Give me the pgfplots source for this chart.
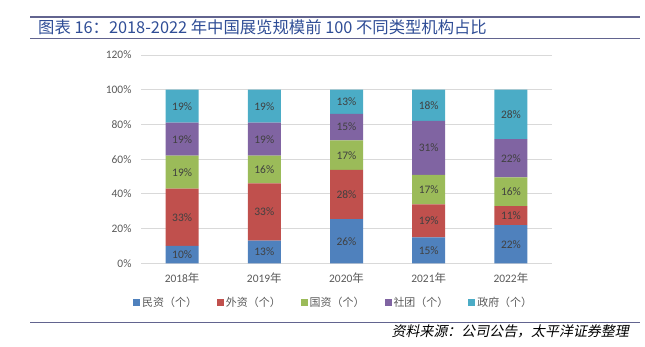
\documentclass[border=0pt]{standalone}
\usepackage{fontspec}
\setmainfont{Carlito}
\newfontfamily\cjk{Noto Sans CJK SC}
\newfontfamily\cjkit{Noto Sans CJK SC}[FakeSlant=0.2]
\usepackage{pgfplots}
\pgfplotsset{compat=1.18}
\usepackage{pgfplotstable}
\definecolor{cMin}{HTML}{4F81BD}
\definecolor{cWai}{HTML}{C0504D}
\definecolor{cGuo}{HTML}{9BBB59}
\definecolor{cShe}{HTML}{8064A2}
\definecolor{cZheng}{HTML}{4BACC6}
\definecolor{txt}{HTML}{595959}
\definecolor{lbl}{HTML}{404040}
\definecolor{gridc}{HTML}{D9D9D9}
\definecolor{ttl}{HTML}{2F4D96}
\definecolor{rulec}{HTML}{62648F}
\pgfplotstableread{
x min wai guo she zheng
0 10 33 19 19 19
1 13 33 16 19 19
2 25.5 28.3 17 15.3 13.9
3 15 19 17 31 18
4 22 11 16.5 22 28.5
}\bars
\begin{document}
\begin{tikzpicture}
\begin{scope}[x=1bp,y=1bp]
\useasboundingbox (0,0) rectangle (645,346);
\draw[rulec, line width=2bp] (30,328.7) -- (640,328.7);
\node[anchor=base west, text=ttl, inner sep=0pt, font=\cjk\fontsize{16.4}{16.4}\selectfont] at (38,313) {图表 16：2018-2022 年中国展览规模前 100 不同类型机构占比};
\draw[rulec, line width=0.8bp] (30,307.7) -- (640,307.7);
\draw[rulec, line width=0.8bp] (30,23.7) -- (640,23.7);
\node[anchor=base east, inner sep=0pt, font=\cjkit\fontsize{14}{14}\selectfont] at (629,10) {资料来源：公司公告，太平洋证券整理};
\end{scope}
\begin{axis}[
  at={(141bp,82.7bp)}, anchor=south west, scale only axis,
  width=411bp, height=208.3bp,
  ybar stacked, bar width=33bp,
  xmin=-0.5, xmax=4.5, ymin=0, ymax=120,
  xtick={0,1,2,3,4},
  xticklabels={2018{\cjk 年},2019{\cjk 年},2020{\cjk 年},2021{\cjk 年},2022{\cjk 年}},
  ytick={0,20,...,120},
  yticklabel={\pgfmathprintnumber{\tick}\%},
  axis line style={draw=none}, major tick length=0pt,
  ymajorgrids, grid style={gridc, line width=0.8bp},
  tick label style={font=\fontsize{11.5}{11.5}\selectfont, text=txt},
  /pgf/number format/assume math mode=true,
  yticklabel style={xshift=-6bp},
  xticklabel style={yshift=-6bp},
  legend columns=5,
  legend style={at={(-0.0195,-0.19)}, anchor=west, draw=none, fill=none,
    inner sep=0pt, font=\cjk\fontsize{11}{11}\selectfont, text=txt,
    /tikz/every even column/.append style={column sep=18bp}},
  legend image code/.code={\fill[#1] (0bp,-3.5bp) rectangle (7bp,3.5bp);},
]
\addplot[fill=cMin, draw=none] table[x=x,y=min]{\bars};
\addplot[fill=cWai, draw=none] table[x=x,y=wai]{\bars};
\addplot[fill=cGuo, draw=none] table[x=x,y=guo]{\bars};
\addplot[fill=cShe, draw=none] table[x=x,y=she]{\bars};
\addplot[fill=cZheng, draw=none] table[x=x,y=zheng]{\bars};
\legend{民资（个）,外资（个）,国资（个）,社团（个）,政府（个）}
\end{axis}
\begin{axis}[
  at={(141bp,82.7bp)}, anchor=south west, scale only axis,
  width=411bp, height=208.3bp,
  xmin=-0.5, xmax=4.5, ymin=0, ymax=120,
  hide axis, nodes near coords, point meta=explicit symbolic,
  every node near coord/.append style={anchor=center, inner sep=0pt,
    font=\fontsize{11.5}{11.5}\selectfont, text=lbl},
]
\addplot[draw=none, mark=none] coordinates {(0,5)[10\%] (1,6.5)[13\%] (2,12.75)[26\%] (3,7.5)[15\%] (4,11)[22\%]};
\addplot[draw=none, mark=none] coordinates {(0,26.5)[33\%] (1,29.5)[33\%] (2,39.65)[28\%] (3,24.5)[19\%] (4,27.5)[11\%]};
\addplot[draw=none, mark=none] coordinates {(0,52.5)[19\%] (1,54)[16\%] (2,62.3)[17\%] (3,42.5)[17\%] (4,41.25)[16\%]};
\addplot[draw=none, mark=none] coordinates {(0,71.5)[19\%] (1,71.5)[19\%] (2,78.45)[15\%] (3,66.5)[31\%] (4,60.5)[22\%]};
\addplot[draw=none, mark=none] coordinates {(0,90.5)[19\%] (1,90.5)[19\%] (2,93.05)[13\%] (3,91)[18\%] (4,85.75)[28\%]};
\end{axis}
\end{tikzpicture}
\end{document}
